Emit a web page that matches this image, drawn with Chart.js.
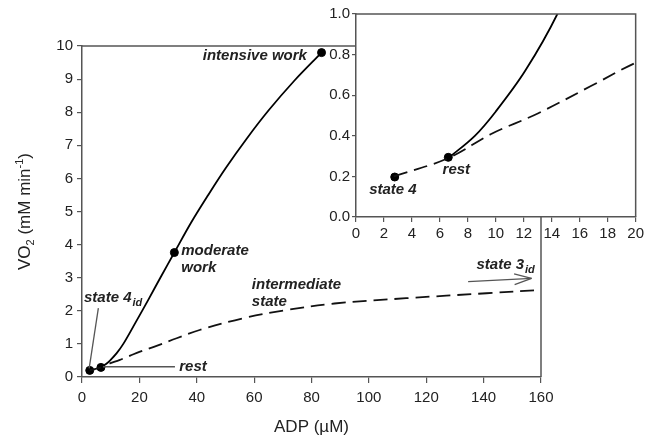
<!DOCTYPE html>
<html>
<head>
<meta charset="utf-8">
<script src="https://cdn.jsdelivr.net/npm/chart.js@4.4.0/dist/chart.umd.min.js"></script>
<style>
  html, body { margin: 0; padding: 0; background: #fff; }
  #wrap { position: relative; width: 647px; height: 442px; }
  #main { position: absolute; left: 0; top: 0; }
  #inset { position: absolute; left: 320px; top: 0; }
</style>
</head>
<body>
<div id="wrap">
  <canvas id="main" width="647" height="442"></canvas>
  <canvas id="inset" width="327" height="260"></canvas>
</div>
<script>
// --- data (ADP in µM, VO2 in mM/min) ---
const solidADP = [6.6, 8.5, 10, 12.1, 14.4, 18.5, 23.1, 27.5, 32.2, 38, 44, 50, 57.4, 65, 74, 83.5];
const solidVO2 = [0.29, 0.4, 0.52, 0.72, 1.0, 1.62, 2.33, 3.03, 3.76, 4.66, 5.5, 6.3, 7.2, 8.05, 8.95, 9.8];

const dashADP = [2.7, 6.6, 9.7, 13, 16.8, 20, 26, 33, 41, 56, 71, 88, 113, 141, 160];
const dashVO2 = [0.2, 0.29, 0.41, 0.51, 0.645, 0.76, 0.94, 1.17, 1.42, 1.77, 2.02, 2.22, 2.38, 2.53, 2.63];

const markADP = [2.7, 6.6, 32.2, 83.5];
const markVO2 = [0.2, 0.29, 3.76, 9.8];

const insetMarkADP = [2.77, 6.6];
const insetMarkVO2 = [0.197, 0.294];

const mainXTicks = [0, 20, 40, 60, 80, 100, 120, 140, 160];
const mainYTicks = [0, 1, 2, 3, 4, 5, 6, 7, 8, 9, 10];
const insetXTicks = [0, 2, 4, 6, 8, 10, 12, 14, 16, 18, 20];
const insetYTicks = [0, 0.2, 0.4, 0.6, 0.8, 1.0];

const FONT = '"Liberation Sans", Arial, sans-serif';
const INK = '#222';
const AXIS = '#555';
Chart.defaults.font.family = FONT;

const pts = (xs, ys) => xs.map((x, i) => ({ x: x, y: ys[i] }));

function lineSets(marksX, marksY) {
  return [
    { data: pts(solidADP, solidVO2), showLine: true, borderColor: '#000', borderWidth: 1.8,
      pointRadius: 0, tension: 0.35 },
    { data: pts(dashADP, dashVO2), showLine: true, borderColor: '#111', borderWidth: 1.8,
      borderDash: [14, 7], pointRadius: 0, tension: 0.35 },
    { data: pts(marksX, marksY), showLine: false, pointRadius: 4, pointBackgroundColor: '#000',
      pointBorderColor: '#000', clip: false }
  ];
}

function axisOpts(ticks, fmt, size, tickLen, pad) {
  return {
    type: 'linear', min: ticks[0], max: ticks[ticks.length - 1],
    afterBuildTicks: (s) => { s.ticks = ticks.map(v => ({ value: v })); },
    grid: { drawOnChartArea: false, drawTicks: true, tickLength: tickLen, color: AXIS, lineWidth: 1.2 },
    border: { color: AXIS, width: 1.5 },
    ticks: { color: INK, font: { size: 15 }, padding: pad, callback: fmt, maxRotation: 0, autoSkip: false },
    afterFit: (s) => { if (s.isHorizontal()) s.height = size; else s.width = size; }
  };
}

function boxLines(ctx, a) {
  ctx.save();
  ctx.strokeStyle = AXIS;
  ctx.lineWidth = 1.5;
  ctx.beginPath();
  ctx.moveTo(a.left, a.top);
  ctx.lineTo(a.right, a.top);
  ctx.lineTo(a.right, a.bottom);
  ctx.stroke();
  ctx.restore();
}

function label(ctx, txt, x, y, sub, align) {
  ctx.font = 'italic bold 15px ' + FONT;
  ctx.fillStyle = INK;
  ctx.textBaseline = 'middle';
  ctx.textAlign = 'left';
  let w = ctx.measureText(txt).width;
  let subW = 0;
  if (sub) {
    ctx.font = 'italic bold 11px ' + FONT;
    subW = ctx.measureText(sub).width;
  }
  let x0 = align === 'right' ? x - w - subW : x;
  ctx.font = 'italic bold 15px ' + FONT;
  ctx.fillText(txt, x0, y);
  if (sub) {
    ctx.font = 'italic bold 11px ' + FONT;
    ctx.fillText(sub, x0 + w + 1, y + 5);
  }
}

function seg(ctx, x1, y1, x2, y2) {
  ctx.beginPath();
  ctx.moveTo(x1, y1);
  ctx.lineTo(x2, y2);
  ctx.stroke();
}

// annotation anchors in data units
const mainNotes = [
  { t: 'intensive work', x: 78.4, y: 9.7, align: 'right' },
  { t: 'moderate', x: 34.6, y: 3.8 },
  { t: 'work', x: 34.6, y: 3.29 },
  { t: 'intermediate', x: 59.2, y: 2.78 },
  { t: 'state', x: 59.2, y: 2.27 },
  { t: 'state 4', sub: 'id', x: 0.7, y: 2.39 },
  { t: 'rest', x: 33.9, y: 0.31 },
  { t: 'state 3', sub: 'id', x: 137.5, y: 3.38 }
];
const insetNotes = [
  { t: 'rest', x: 6.19, y: 0.23 },
  { t: 'state 4', x: 0.94, y: 0.133 }
];

const mainDecor = {
  id: 'mainDecor',
  afterDraw(chart) {
    const ctx = chart.ctx, a = chart.chartArea;
    const X = v => chart.scales.x.getPixelForValue(v);
    const Y = v => chart.scales.y.getPixelForValue(v);
    boxLines(ctx, a);
    ctx.save();
    mainNotes.forEach(n => label(ctx, n.t, X(n.x), Y(n.y), n.sub, n.align));
    // pointer lines
    ctx.strokeStyle = '#555';
    ctx.lineWidth = 1.3;
    seg(ctx, X(5.7), Y(2.08), X(2.5), Y(0.26));
    seg(ctx, X(7.3), Y(0.31), X(32.4), Y(0.31));
    // arrow to state 3id
    const ax1 = X(134.6), ay1 = Y(2.88), ax2 = X(156.7), ay2 = Y(2.98);
    seg(ctx, ax1, ay1, ax2, ay2);
    const ang = Math.atan2(ay2 - ay1, ax2 - ax1);
    seg(ctx, ax2, ay2, ax2 - 18 * Math.cos(ang - 0.3), ay2 - 18 * Math.sin(ang - 0.3));
    seg(ctx, ax2, ay2, ax2 - 18 * Math.cos(ang + 0.3), ay2 - 18 * Math.sin(ang + 0.3));
    // y axis title with sub/superscript
    ctx.translate(30, (a.top + a.bottom) / 2);
    ctx.rotate(-Math.PI / 2);
    ctx.fillStyle = INK;
    ctx.textBaseline = 'alphabetic';
    ctx.textAlign = 'left';
    const parts = [
      { s: 'VO', f: 17, dy: 0 }, { s: '2', f: 11, dy: 4 },
      { s: ' (mM min', f: 17, dy: 0 }, { s: '-1', f: 11, dy: -7 }, { s: ')', f: 17, dy: 0 }
    ];
    let total = 0;
    parts.forEach(p => { ctx.font = p.f + 'px ' + FONT; p.w = ctx.measureText(p.s).width; total += p.w; });
    let cx = -total / 2;
    parts.forEach(p => { ctx.font = p.f + 'px ' + FONT; ctx.fillText(p.s, cx, p.dy); cx += p.w; });
    ctx.restore();
  }
};

const insetDecor = {
  id: 'insetDecor',
  beforeDraw(chart) {
    const ctx = chart.ctx, a = chart.chartArea;
    ctx.save();
    ctx.fillStyle = '#fff';
    ctx.fillRect(a.left, a.top, a.right - a.left, a.bottom - a.top);
    ctx.restore();
  },
  afterDraw(chart) {
    const ctx = chart.ctx;
    const X = v => chart.scales.x.getPixelForValue(v);
    const Y = v => chart.scales.y.getPixelForValue(v);
    boxLines(ctx, chart.chartArea);
    ctx.save();
    insetNotes.forEach(n => label(ctx, n.t, X(n.x), Y(n.y), n.sub, n.align));
    ctx.restore();
  }
};

const common = {
  responsive: false,
  devicePixelRatio: 1,
  animation: false,
  plugins: { legend: { display: false }, tooltip: { enabled: false } }
};

new Chart(document.getElementById('main'), {
  type: 'scatter',
  data: { datasets: lineSets(markADP, markVO2) },
  options: Object.assign({}, common, {
    layout: { padding: { left: 0, right: 106, top: 46, bottom: 0 } },
    scales: {
      x: Object.assign(axisOpts(mainXTicks, v => String(v), 65, 6, 6), {
        title: { display: true, text: 'ADP (µM)', color: INK, font: { size: 17 }, padding: { top: 0, bottom: 4 } }
      }),
      y: axisOpts(mainYTicks, v => String(v), 82, 5, 4)
    }
  }),
  plugins: [mainDecor]
});

new Chart(document.getElementById('inset'), {
  type: 'scatter',
  data: { datasets: lineSets(insetMarkADP, insetMarkVO2) },
  options: Object.assign({}, common, {
    layout: { padding: { left: 0, right: 9, top: 14, bottom: 0 } },
    scales: {
      x: axisOpts(insetXTicks, v => String(v), 43, 5, 3),
      y: axisOpts(insetYTicks, v => v.toFixed(1), 36, 4, 2)
    }
  }),
  plugins: [insetDecor]
});
</script>
</body>
</html>
